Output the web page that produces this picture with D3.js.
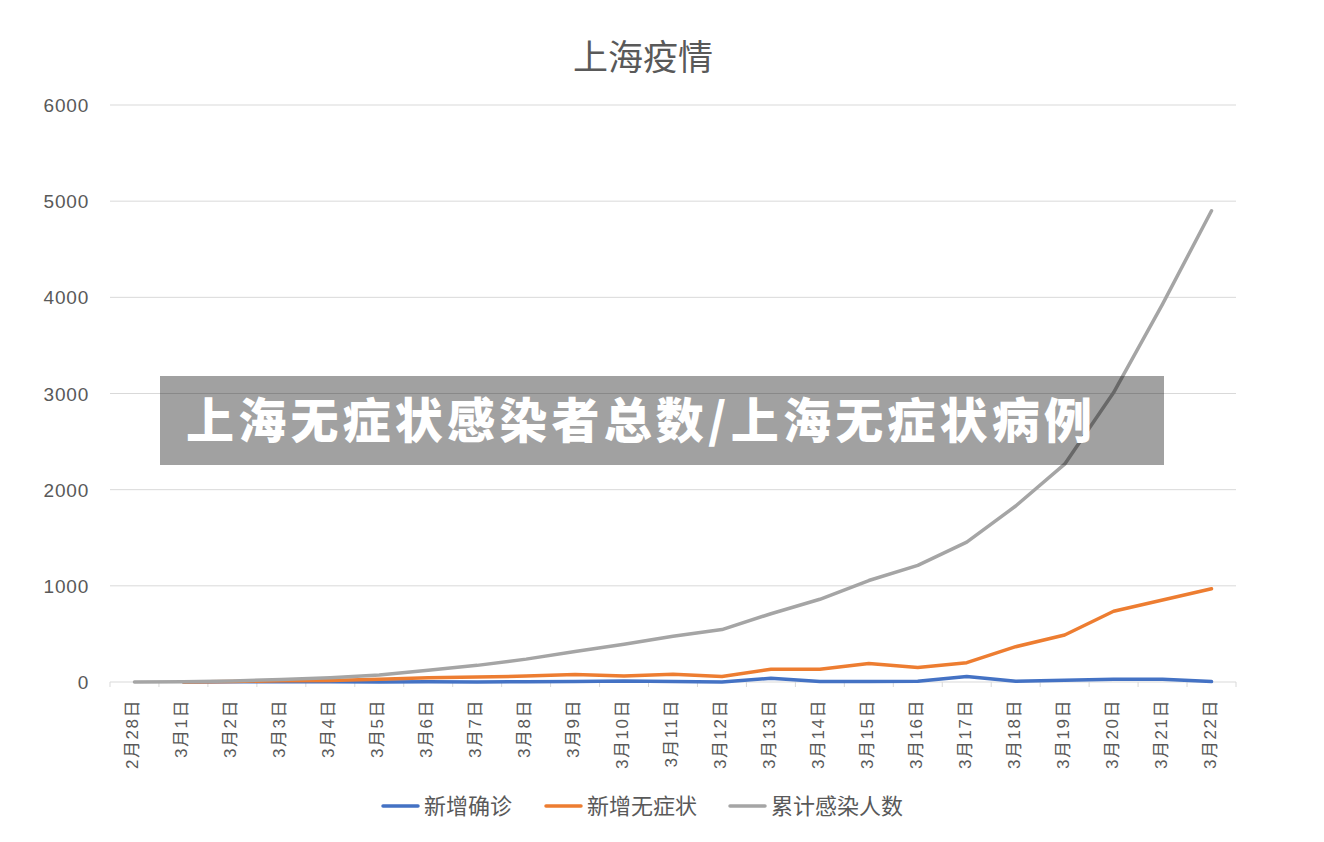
<!DOCTYPE html>
<html><head><meta charset="utf-8">
<script src="https://cdn.jsdelivr.net/npm/d3@7"></script>
<style>body{margin:0;background:#fff;}svg{display:block;font-family:"Noto Sans CJK SC","Noto Sans",sans-serif;}</style>
</head><body><svg id="c" width="1324" height="842"></svg>
<script>
const categories = ["2月28日","3月1日","3月2日","3月3日","3月4日","3月5日","3月6日","3月7日","3月8日","3月9日","3月10日","3月11日","3月12日","3月13日","3月14日","3月15日","3月16日","3月17日","3月18日","3月19日","3月20日","3月21日","3月22日"];
const newConfirmed = [null,1,3,2,3,0,3,1,3,4,11,5,1,38,5,5,8,57,8,17,28,29,4];
const newAsymptomatic = [null,1,5,14,16,28,45,51,62,78,62,80,58,132,132,192,150,201,367,489,736,852,969];
const cumulative = [0,2,10,26,45,73,121,173,238,318,393,476,545,710,860,1055,1212,1455,1830,2265,3010,3930,4900];
const yTicks = [0,1000,2000,3000,4000,5000,6000];
const seriesNames = ["新增确诊","新增无症状","累计感染人数"];
const seriesColors = ["#4472C4","#ED7D31","#A5A5A5"];

const svg = d3.select("#c");
const x = d3.scaleBand().domain(categories).range([110,1236]);
const y = d3.scaleLinear().domain([0,6000]).range([682,105]);
const txt = "#595959";

svg.append("text").attr("x",643).attr("y",70).attr("text-anchor","middle")
  .attr("font-size",35).attr("fill",txt).text("上海疫情");

// grid
svg.append("g").selectAll("line").data(yTicks).join("line")
  .attr("x1",110).attr("x2",1236).attr("y1",d=>y(d)).attr("y2",d=>y(d))
  .attr("stroke","#d9d9d9").attr("stroke-width",1);
svg.append("g").selectAll("text").data(yTicks).join("text")
  .attr("x",89).attr("y",d=>y(d)+7).attr("text-anchor","end")
  .attr("font-family","Liberation Sans, Arial, sans-serif")
  .attr("font-size",19).attr("letter-spacing",0.8).attr("fill",txt).text(d=>d);

// x tick marks
svg.append("g").selectAll("line").data(categories.concat(["_end"])).join("line")
  .attr("x1",(d,i)=>110+i*x.step()).attr("x2",(d,i)=>110+i*x.step())
  .attr("y1",682).attr("y2",687).attr("stroke","#d9d9d9");

// x labels rotated
svg.append("g").selectAll("text").data(categories).join("text")
  .attr("transform",d=>`translate(${x(d)+x.bandwidth()/2+4},699) rotate(-90)`)
  .attr("text-anchor","end").attr("font-size",17).attr("letter-spacing",1.5).attr("fill",txt)
  .attr("font-family","Liberation Sans, Noto Sans CJK SC, sans-serif")
  .text(d=>d);

const line = d3.line().defined(d=>d[1]!=null)
  .x(d=>x(d[0])+x.bandwidth()/2).y(d=>y(d[1]));
[newConfirmed,newAsymptomatic,cumulative].forEach((s,i)=>{
  svg.append("path").datum(categories.map((c,j)=>[c,s[j]]))
    .attr("d",line).attr("fill","none").attr("stroke",seriesColors[i])
    .attr("stroke-width",3.5).attr("stroke-linejoin","round").attr("stroke-linecap","round");
});

// legend
const legX = [383,546,730];
seriesNames.forEach((n,i)=>{
  svg.append("line").attr("x1",legX[i]).attr("x2",legX[i]+35).attr("y1",806).attr("y2",806)
    .attr("stroke",seriesColors[i]).attr("stroke-width",3.5).attr("stroke-linecap","round");
  svg.append("text").attr("x",legX[i]+41).attr("y",814).attr("font-size",22).attr("fill",txt).text(n);
});

// banner overlay
svg.append("rect").attr("x",160).attr("y",376).attr("width",1004).attr("height",89)
  .attr("fill","#000").attr("fill-opacity",0.37);
svg.append("text").attr("x",186).attr("y",438).attr("font-size",48).attr("font-weight",900)
  .attr("fill","#fff").attr("textLength",906).attr("lengthAdjust","spacing")
  .text("上海无症状感染者总数/上海无症状病例");
</script></body></html>
